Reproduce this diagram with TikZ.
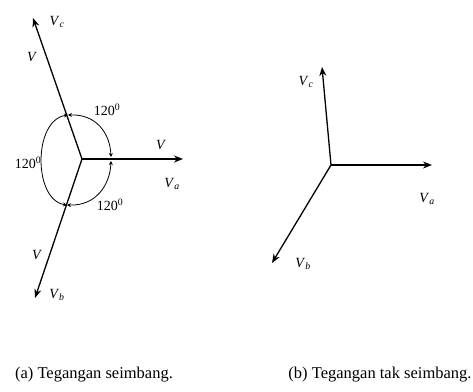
\documentclass[tikz,border=0pt]{standalone}
\usepackage{fontspec}
\setmainfont{Liberation Serif}
\usetikzlibrary{arrows.meta}
\tikzset{
  phasor/.style={line width=1.3pt,-{Stealth[length=9pt,width=7pt]}},
  anglearc/.style={line width=0.8pt,{Stealth[length=4pt,width=4pt]}-{Stealth[length=4pt,width=4pt]}},
  lbl/.style={font=\fontsize{14}{16}\selectfont,inner sep=0pt},
  captxt/.style={font=\fontsize{16.5}{19}\selectfont,inner sep=0pt}
}
\newcommand{\Vsub}[1]{\textit{V}\textsubscript{\textit{#1}}}
\begin{document}
\begin{tikzpicture}[x=1pt,y=-1pt]
\useasboundingbox (0,0) rectangle (473,391);
% ---- (a) balanced ----
\coordinate (O1) at (82,159);
\coordinate (A1) at (183,159);
\coordinate (C1) at (33,18);
\coordinate (B1) at (35,298);
\draw[phasor,line width=1.8pt] (O1) -- (A1);
\draw[phasor] (O1) -- (C1);
\draw[phasor] (O1) -- (B1);
% angle arcs
\coordinate (pc) at (68,115);
\coordinate (pb) at (67,205);
\coordinate (pa1) at (111,157);
\coordinate (pa2) at (111,161);
\draw[anglearc] (pc) .. controls (96,114) and (110,133) .. (pa1);
\draw[anglearc] (pa2) .. controls (110,185) and (96,206) .. (pb);
\draw[anglearc] (pb) .. controls (33,200) and (33,120) .. (pc);
% labels
\node[lbl] (lc) at (57,22) {\Vsub{c}};
\node[lbl] (lvc) at (32,57) {\textit{V}};
\node[lbl] (t1) at (107,110) {120\textsuperscript{0}};
\node[lbl] (t2) at (28,163) {120\textsuperscript{0}};
\node[lbl] (t3) at (110,205) {120\textsuperscript{0}};
\node[lbl] (lva) at (161,145) {\textit{V}};
\node[lbl] (la) at (172,184) {\Vsub{a}};
\node[lbl] (lvb) at (37,255) {\textit{V}};
\node[lbl] (lb) at (57,295) {\Vsub{b}};
% ---- (b) unbalanced ----
\coordinate (O2) at (331,165);
\coordinate (A2) at (432,165);
\coordinate (C2) at (322,67);
\coordinate (B2) at (272,263);
\draw[phasor] (O2) -- (A2);
\draw[phasor] (O2) -- (C2);
\draw[phasor] (O2) -- (B2);
\node[lbl] (lc2) at (306,82) {\Vsub{c}};
\node[lbl] (la2) at (427,199) {\Vsub{a}};
\node[lbl] (lb2) at (303,264) {\Vsub{b}};
% captions
\node[captxt] (capa) at (94,375) {(a) Tegangan seimbang.};
\node[captxt] (capb) at (380,375) {(b) Tegangan tak seimbang.};
\end{tikzpicture}
\end{document}
